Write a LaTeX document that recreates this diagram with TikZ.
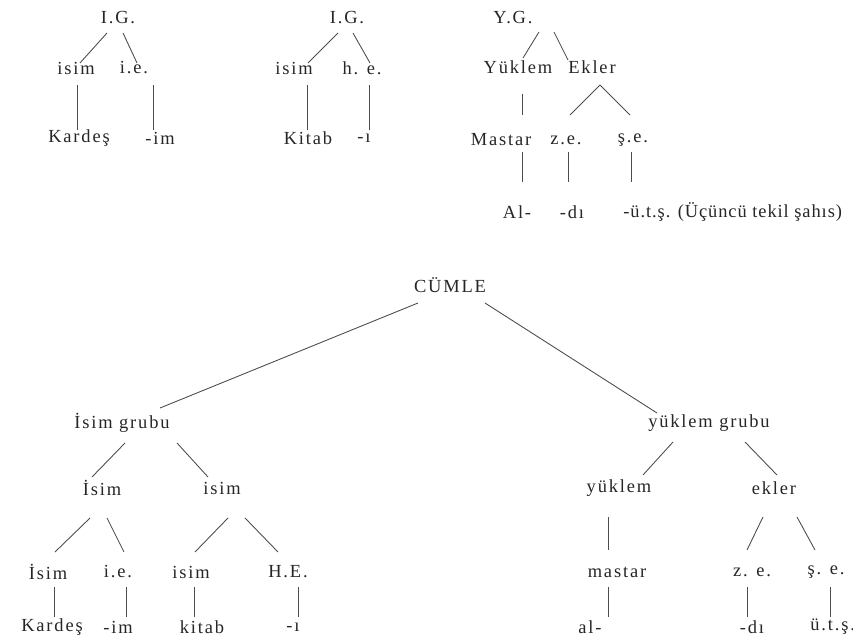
\documentclass[tikz,border=0pt]{standalone}
\usepackage{fontspec}
\setmainfont[LetterSpace=10]{Liberation Serif}
\newfontfamily\tightfont[LetterSpace=5]{Liberation Serif}
\usetikzlibrary{calc}

\begin{document}
\begin{tikzpicture}[x=0.02cm,y=-0.02cm]
\tikzstyle{word} = [inner sep=0pt,text=black!85,font=\fontsize{10.5}{12}\selectfont]
\tikzstyle{branch} = [draw=black!70,line width=0.5pt]

\useasboundingbox (0,0) rectangle (853,642);

% isim grubu 1
\node[word] (ig1) at (118,18) {I.G.};
\node[word] (isim1) at (76,68) {isim};
\node[word] (ie1) at (134,68) {i.e.};
\node[word] (kardes1) at (79,138) {Kardeş};
\node[word] (im1) at (160,138) {-im};

\draw[branch] ($(ig1)+(-11,15)$) -- ($(isim1)+(4,-5)$);
\draw[branch] ($(ig1)+(5,15)$) -- ($(ie1)+(3,-5)$);
\draw[branch] ($(isim1)+(1,17)$) -- ($(kardes1)+(-2,-8)$);
\draw[branch] ($(ie1)+(19,17)$) -- ($(im1)+(-7,-8)$);

% isim grubu 2
\node[word] (ig2) at (347,18) {I.G.};
\node[word] (isim2) at (294,68) {isim};
\node[word] (he2) at (362,68) {h. e.};
\node[word] (kitab2) at (308,138) {Kitab};
\node[word] (i2) at (364,138) {-ı};

\draw[branch] ($(ig2)+(-9,15)$) -- ($(isim2)+(14,-5)$);
\draw[branch] ($(ig2)+(6,15)$) -- ($(he2)+(8,-5)$);
\draw[branch] ($(isim2)+(13,17)$) -- ($(kitab2)+(-1,-8)$);
\draw[branch] ($(he2)+(7,17)$) -- ($(i2)+(5,-8)$);

% yuklem grubu
\node[word] (yg3) at (513,18) {Y.G.};
\node[word] (yuklem3) at (518,67) {Yüklem};
\node[word] (ekler3) at (592,67) {Ekler};
\node[word] (mastar3) at (501,140) {Mastar};
\node[word] (ze3) at (566,140) {z.e.};
\node[word] (se3) at (633,140) {ş.e.};
\node[word] (al3) at (517,212) {Al-};
\node[word] (di3) at (572,212) {-dı};
\node[word,anchor=west] (uts3) at (623,212) {\tightfont -ü.t.ş. (Üçüncü tekil şahıs)};

\draw[branch] ($(yg3)+(26,14)$) -- ($(yuklem3)+(5,-9)$);
\draw[branch] ($(yg3)+(41,14)$) -- ($(ekler3)+(-24,-7)$);
\draw[branch] ($(yuklem3)+(4,27)$) -- ($(mastar3)+(21,-25)$);
\draw[branch] ($(ekler3)+(8,18)$) -- ($(ze3)+(4,-25)$);
\draw[branch] ($(ekler3)+(8,18)$) -- ($(se3)+(-3,-25)$);
\draw[branch] ($(mastar3)+(21,12)$) -- ($(al3)+(5,-30)$);
\draw[branch] ($(ze3)+(2,12)$) -- ($(di3)+(-4,-30)$);
\draw[branch] ($(se3)+(-2,12)$) -- ($(uts3.west)+(8,-30)$);

% cumle
\node[word] (cumle) at (450,285) {CÜMLE};
\node[word] (ig4) at (122,423) {İsim grubu};
\node[word] (yg5) at (709,423) {yüklem grubu};

\draw[branch] ($(cumle)+(-32,18)$) -- ($(ig4)+(38,-15)$);
\draw[branch] ($(cumle)+(35,18)$) -- ($(yg5)+(-52,-10)$);

\node[word] (isim4) at (102,488) {İsim};
\node[word] (isim6) at (222,488) {isim};
\node[word] (isim7) at (48,572) {İsim};
\node[word] (ie7) at (118,572) {i.e.};
\node[word] (isim8) at (191,572) {isim};
\node[word] (he8) at (288,572) {H.E.};
\node[word] (kardes7) at (52,627) {Kardeş};
\node[word] (im7) at (118,627) {-im};
\node[word] (kitab8) at (202,627) {kitab};
\node[word] (i8) at (293,627) {-ı};

\draw[branch] ($(ig4)+(3,20)$) -- ($(isim4)+(-10,-11)$);
\draw[branch] ($(ig4)+(55,20)$) -- ($(isim6)+(-14,-11)$);
\draw[branch] ($(isim4)+(-12,30)$) -- ($(isim7)+(7,-20)$);
\draw[branch] ($(isim4)+(5,30)$) -- ($(ie7)+(6,-20)$);
\draw[branch] ($(isim6)+(6,30)$) -- ($(isim8)+(4,-20)$);
\draw[branch] ($(isim6)+(23,30)$) -- ($(he8)+(-10,-20)$);
\draw[branch] ($(isim7)+(6,15)$) -- ($(kardes7)+(2,-10)$);
\draw[branch] ($(ie7)+(8,15)$) -- ($(im7)+(8,-10)$);
\draw[branch] ($(isim8)+(3,15)$) -- ($(kitab8)+(-8,-10)$);
\draw[branch] ($(he8)+(10,15)$) -- ($(i8)+(5,-10)$);

\node[word] (yuklem5) at (619,488) {yüklem};
\node[word] (ekler5) at (774,488) {ekler};
\node[word] (mastar5) at (617,572) {mastar};
\node[word] (ze5) at (752,572) {z. e.};
\node[word] (se5) at (826,572) {ş. e.};
\node[word] (al5) at (590,627) {al-};
\node[word] (di5) at (752,627) {-dı};
\node[word,anchor=west] (uts5) at (810,627) {ü.t.ş.};

\draw[branch] ($(yg5)+(-36,19)$) -- ($(yuklem5)+(24,-13)$);
\draw[branch] ($(yg5)+(36,19)$) -- ($(ekler5)+(3,-13)$);
\draw[branch] ($(yuklem5)+(-11,29)$) -- ($(mastar5)+(-9,-22)$);
\draw[branch] ($(ekler5)+(-11,29)$) -- ($(ze5)+(-5,-22)$);
\draw[branch] ($(ekler5)+(23,29)$) -- ($(se5)+(-11,-22)$);
\draw[branch] ($(mastar5)+(-9,15)$) -- ($(al5)+(18,-10)$);
\draw[branch] ($(ze5)+(-5,15)$) -- ($(di5)+(-5,-10)$);
\draw[branch] ($(se5)+(4,15)$) -- ($(uts5.west)+(20,-10)$);

\end{tikzpicture}
\end{document}
